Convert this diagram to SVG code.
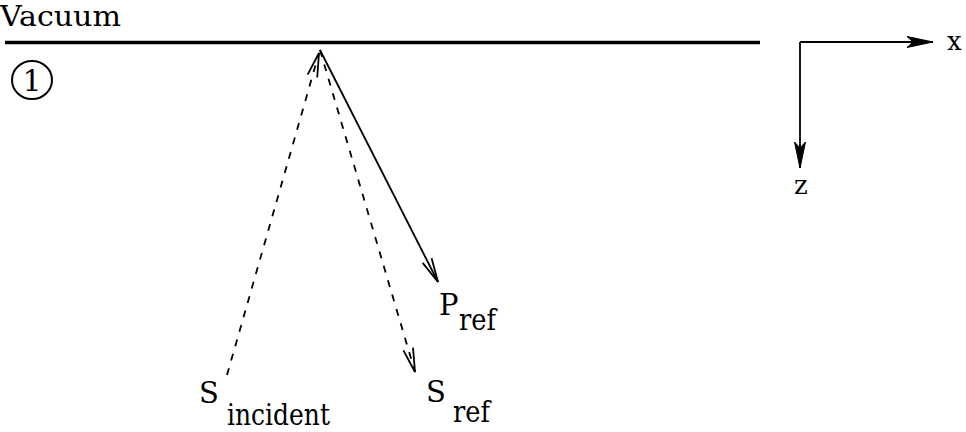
<svg xmlns="http://www.w3.org/2000/svg" width="966" height="432" viewBox="0 0 966 432">
<style>
.t{font-family:'DejaVu Serif',serif;fill:#000;font-size:29px}
.solid{stroke:#000;stroke-width:1.8;fill:none}
.dash{stroke:#000;stroke-width:1.8;fill:none;stroke-dasharray:7 8}
</style>
<defs>
<marker id="stick" markerUnits="userSpaceOnUse" viewBox="-26 -8 30 16" refX="0" refY="0" markerWidth="30" markerHeight="16" orient="auto">
<path d="M-24,-5 L0,0 L-24,5" fill="none" stroke="#000" stroke-width="1.8" stroke-dasharray="none"/>
</marker>
<marker id="barb" markerUnits="userSpaceOnUse" viewBox="-28 -8 32 16" refX="0" refY="0" markerWidth="32" markerHeight="16" orient="auto">
<path d="M0,0 L-26,-5.5 L-20,0 L-26,5.5 Z" fill="#000" stroke="#000" stroke-width="1"/>
</marker>
</defs>
<rect width="966" height="432" fill="#fff"/>
<g id="surface">
<line x1="5" y1="42.5" x2="760" y2="42.5" stroke="#000" stroke-width="3.5"/>
</g>
<g id="vacuum-label">
<text class="t" x="0" y="26" style="font-size:28px" textLength="121" lengthAdjust="spacingAndGlyphs">Vacuum</text>
</g>
<g id="medium-1">
<ellipse cx="32" cy="80" rx="20" ry="19" fill="none" stroke="#000" stroke-width="2"/>
<text class="t" x="32" y="91" text-anchor="middle" style="font-size:30px">1</text>
</g>
<g id="axes">
<path d="M800,42 L800,168" class="solid" stroke-width="2.5" marker-end="url(#barb)"/>
<path d="M800,42 L933,42" class="solid" stroke-width="2.5" marker-end="url(#barb)"/>
<text class="t" style="font-size:26px" x="947" y="50">x</text>
<text class="t" style="font-size:26px" x="794" y="194">z</text>
</g>
<g id="connectors">
<path id="s-incident-ray" d="M227,375 L319,53" class="dash" marker-end="url(#stick)"/>
<path id="p-ref-ray" d="M320,50 L438,282" class="solid" marker-end="url(#stick)"/>
<path id="s-ref-ray" d="M320,50 L415,372" class="dash" marker-end="url(#stick)"/>
</g>
<g id="p-ref-label">
<text class="t" x="439" y="315">P</text>
<text class="t" x="459" y="330" textLength="37" lengthAdjust="spacingAndGlyphs">ref</text>
</g>
<g id="s-incident-label">
<text class="t" x="199" y="403">S</text>
<text class="t" x="227" y="425" textLength="103" lengthAdjust="spacingAndGlyphs">incident</text>
</g>
<g id="s-ref-label">
<text class="t" x="426" y="402">S</text>
<text class="t" x="453" y="422" textLength="37" lengthAdjust="spacingAndGlyphs">ref</text>
</g>
</svg>
